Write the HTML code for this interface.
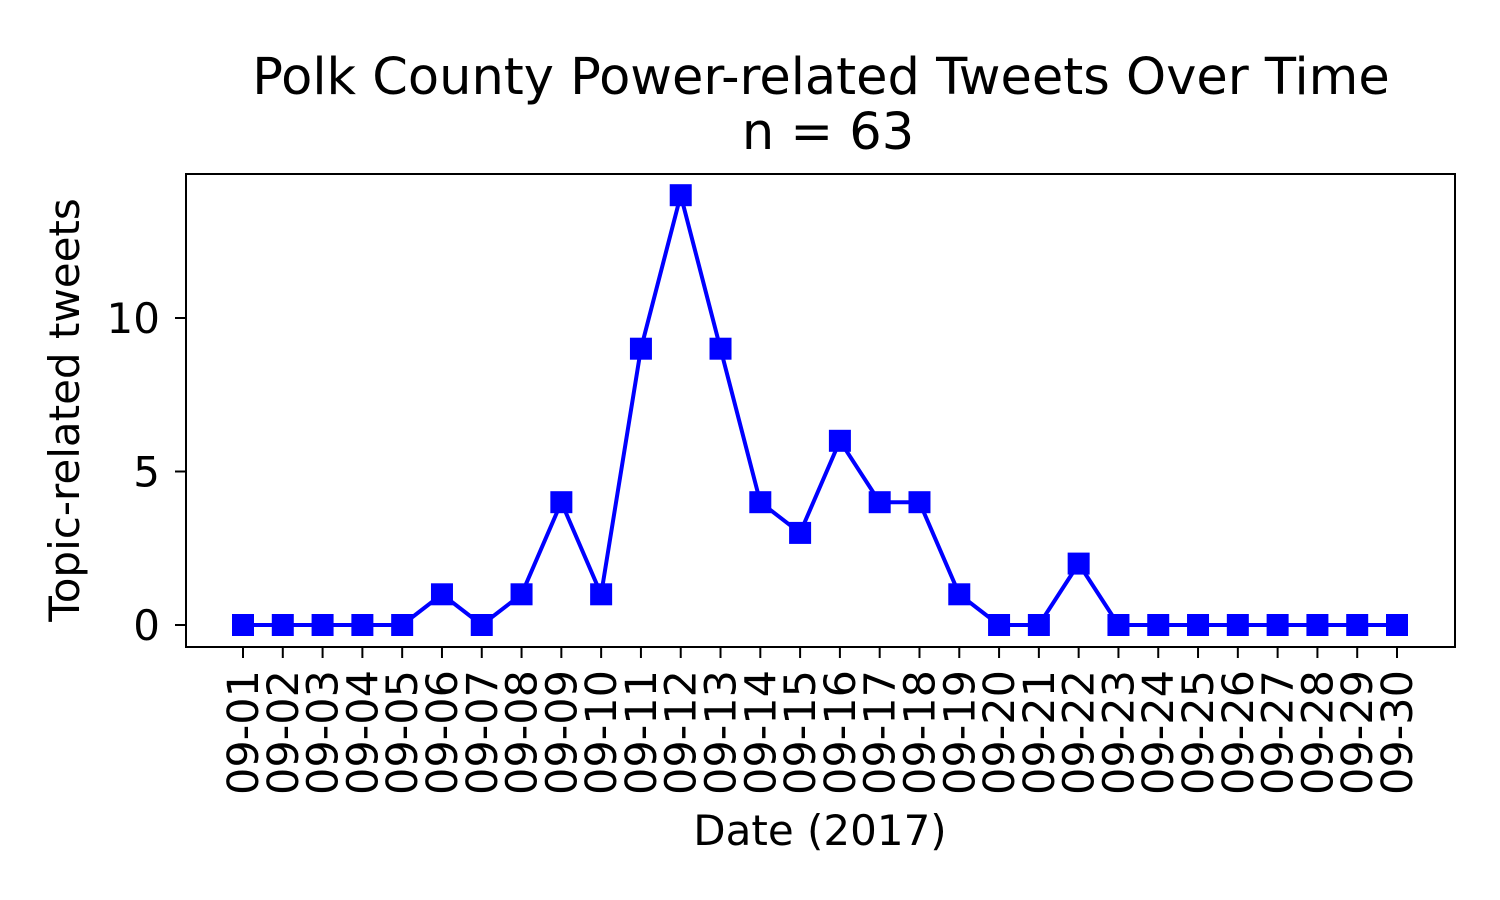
<!DOCTYPE html>
<html><head><meta charset="utf-8"><style>
html,body{margin:0;padding:0;background:#fff;}
svg{display:block;font-family:"DejaVu Sans","Liberation Sans",sans-serif;}
</style></head><body>
<svg id="chart" width="1500" height="900">
<rect width="1500" height="900" fill="#fff"/>
<text x="821" y="94" font-size="51" text-anchor="middle">Polk County Power-related Tweets Over Time</text>
<text x="828" y="149" font-size="51" text-anchor="middle">n = 63</text>
<text x="820" y="845" font-size="42" text-anchor="middle">Date (2017)</text>
<text transform="translate(79,410) rotate(-90)" font-size="42" text-anchor="middle">Topic-related tweets</text>
<g id="ticks"></g>
<g id="series"></g>
<rect x="186" y="174" width="1269" height="473" fill="none" stroke="#000" stroke-width="2"/>
</svg>
<script>
const categories=["09-01","09-02","09-03","09-04","09-05","09-06","09-07","09-08","09-09","09-10","09-11","09-12","09-13","09-14","09-15","09-16","09-17","09-18","09-19","09-20","09-21","09-22","09-23","09-24","09-25","09-26","09-27","09-28","09-29","09-30"];
const values=[0,0,0,0,0,1,0,1,4,1,9,14,9,4,3,6,4,4,1,0,0,2,0,0,0,0,0,0,0,0];
const yTicks=[0,5,10];
const NS="http://www.w3.org/2000/svg";
const x=i=>243+i*(1397-243)/(categories.length-1);
const y=v=>625-v*(625-318)/10;
function mk(t,a){const e=document.createElementNS(NS,t);for(const k in a)e.setAttribute(k,a[k]);return e;}
const tg=document.getElementById('ticks'),sg=document.getElementById('series');
yTicks.forEach(v=>{
 const l=mk('line',{x1:175,x2:186,y1:y(v),y2:y(v),stroke:'#000','stroke-width':2});
 
 
 tg.appendChild(l);
 const t=mk('text',{x:160,y:y(v)+15,'font-size':42,'text-anchor':'end'});
 
 
 t.textContent=v;tg.appendChild(t);
});
categories.forEach((c,i)=>{
 const l=mk('line',{x1:x(i),x2:x(i),y1:647,y2:658,stroke:'#000','stroke-width':2});
 
 
 tg.appendChild(l);
 const t=mk('text',{transform:`translate(${x(i)+15},670) rotate(-90)`,'font-size':43,'text-anchor':'end'});
 
 
 t.textContent=c;tg.appendChild(t);
});
const p=mk('polyline',{points:values.map((v,i)=>x(i)+','+y(v)).join(' '),fill:'none',stroke:'#0000ff','stroke-width':4});


sg.appendChild(p);
values.forEach((v,i)=>{
 const r=mk('rect',{x:x(i)-11,y:y(v)-11,width:22,height:22,fill:'#0000ff'});
 
 
 sg.appendChild(r);
});
</script>
</body></html>
